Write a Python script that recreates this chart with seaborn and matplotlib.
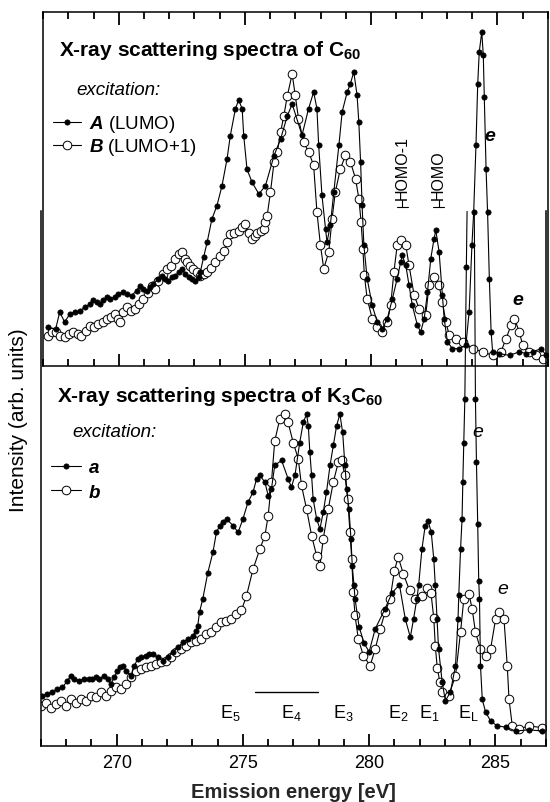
import numpy as np
import pandas as pd
import matplotlib
matplotlib.use("Agg")
import matplotlib.pyplot as plt
import seaborn as sns
from matplotlib.ticker import MultipleLocator, NullFormatter
from matplotlib.lines import Line2D

# ====================================
# DATA
# ====================================

# C60, excitation A (LUMO)
c60_a_e = [267.2, 267.5, 267.66, 267.86, 268.06, 268.26, 268.46, 268.66, 268.86, 268.99,
           269.12, 269.25, 269.39, 269.52, 269.65, 269.85, 269.98, 270.18, 270.31, 270.51,
           270.71, 270.84, 270.98, 271.11, 271.24, 271.37, 271.57, 271.71, 271.84, 271.97,
           272.1, 272.24, 272.37, 272.5, 272.63, 272.77, 272.9, 273.03, 273.16, 273.23,
           273.36, 273.5, 273.69, 273.89, 274.09, 274.29, 274.42, 274.62,
           274.75, 274.89, 274.95, 275.08, 275.28, 275.55, 275.81, 276.15, 276.41, 276.68,
           276.87, 277.26, 277.52, 277.72, 277.85, 277.92, 278.05, 278.19, 278.25, 278.38,
           278.52, 278.72, 278.85, 279.05, 279.18, 279.31, 279.44, 279.51, 279.58, 279.64,
           279.71, 279.84, 280.04, 280.24, 280.44, 280.64, 280.84, 281.03, 281.17, 281.23,
           281.37, 281.5, 281.63, 281.83, 281.96, 282.1, 282.23, 282.36, 282.49, 282.56,
           282.69, 282.82, 282.89, 283.02, 283.22, 283.49, 283.75, 283.88, 283.99, 284.06,
           284.15, 284.22, 284.28, 284.38, 284.44, 284.48, 284.55, 284.61, 284.68, 284.75,
           284.81, 285.08, 285.48, 285.87, 286.14, 286.4, 286.73, 286.93]
c60_a_i = [10.9, 10.4, 15.2, 12.4, 14.7, 15.2, 15.6, 16.6, 17.5, 18.5,
           18.0, 17.5, 18.5, 19.4, 18.9, 19.4, 20.4, 20.8, 20.4, 19.9,
           21.3, 22.7, 21.8, 21.3, 22.2, 23.2, 24.6, 25.5, 24.6, 24.1,
           25.1, 25.5, 26.5, 27.4, 26.0, 25.1, 24.6, 24.1, 25.1, 26.5,
           30.7, 34.9, 41.5, 45.3, 50.9, 58.5, 65.1, 72.6,
           75.2, 72.6, 65.1, 55.6, 51.9, 48.6, 50.9, 59.4, 64.1, 70.7,
           74.0, 65.2, 72.7, 77.4, 72.7, 62.3, 48.2, 38.8, 35.0, 39.7,
           49.2, 62.3, 71.8, 77.4, 79.8, 83.1, 76.5, 68.9, 57.6, 45.4,
           34.1, 24.7, 17.1, 12.4, 10.5, 13.4, 19.0, 24.7, 29.4, 31.3,
           28.4, 22.8, 17.1, 11.5, 9.6, 13.4, 20.9, 30.3, 36.0, 38.3,
           32.2, 20.0, 13.4, 6.8, 4.9, 4.9, 5.8, 15.3, 34.1, 43.5,
           62.3, 79.8, 88.7, 94.4, 87.8, 76.0, 55.7, 43.5, 24.7, 9.6,
           4.0, 3.5, 3.0, 4.0, 3.5, 4.0, 4.9, 3.0]

# C60, excitation B (LUMO+1)
c60_b_e = [267.2, 267.37, 267.53, 267.69, 267.86, 268.03, 268.19, 268.37, 268.52, 268.7,
           268.86, 269.01, 269.19, 269.36, 269.52, 269.69, 269.85, 269.96, 270.05, 270.18,
           270.31, 270.47, 270.64, 270.82, 270.98, 271.15, 271.31, 271.44, 271.57, 271.74,
           271.9, 272.08, 272.24, 272.37, 272.5, 272.61, 272.7, 272.83, 272.96, 273.1,
           273.23, 273.36, 273.49, 273.67, 273.83, 274.0, 274.16, 274.29, 274.42, 274.58,
           274.75, 274.89, 275.02, 275.15, 275.28, 275.38, 275.48, 275.62, 275.75, 275.81,
           275.88, 276.01, 276.15, 276.28, 276.41, 276.54, 276.68, 276.87, 276.99, 277.12,
           277.32, 277.52, 277.72, 277.85, 277.99, 278.12, 278.32, 278.45, 278.58, 278.78,
           278.98, 279.18, 279.38, 279.51, 279.6, 279.67, 279.73, 279.84, 280.04, 280.24,
           280.41, 280.64, 280.77, 280.9, 281.03, 281.17, 281.37, 281.5, 281.7, 281.9,
           282.16, 282.29, 282.49, 282.69, 282.82, 282.96, 283.09, 283.35, 283.62, 284.02,
           284.41, 284.81, 285.14, 285.34, 285.54, 285.67, 285.87, 286.0, 286.27, 286.54,
           286.8]
c60_b_i = [8.6, 9.5, 9.5, 8.6, 8.1, 9.0, 9.5, 9.0, 8.6, 9.9,
           11.4, 10.9, 11.9, 12.3, 13.3, 13.7, 14.7, 13.3, 12.3, 15.2,
           16.6, 15.6, 16.1, 17.5, 18.9, 20.7, 22.6, 21.7, 24.1, 25.9,
           27.4, 28.3, 30.2, 31.6, 32.3, 30.2, 29.3, 28.3, 27.4, 26.5,
           25.5, 26.0, 26.5, 27.8, 29.3, 31.1, 32.6, 34.9, 37.3, 37.7,
           38.2, 39.2, 40.1, 37.7, 35.9, 36.8, 37.7, 38.2, 38.7, 40.6,
           42.5, 49.1, 57.5, 60.4, 66.0, 70.7, 76.4, 82.5, 76.5, 69.9,
           63.3, 60.5, 56.7, 43.5, 34.1, 27.5, 32.2, 41.6, 49.2, 55.7,
           59.5, 57.6, 52.9, 47.3, 40.7, 33.1, 25.6, 19.0, 13.4, 11.0,
           9.6, 12.4, 17.1, 26.6, 34.1, 35.5, 34.1, 28.4, 20.0, 16.2,
           14.3, 22.8, 25.1, 22.8, 18.1, 12.4, 8.7, 7.7, 6.8, 4.9,
           4.0, 3.0, 4.0, 7.7, 11.5, 13.4, 9.6, 5.8, 4.0, 3.0,
           2.1]

# K3C60, excitation a
k3_a_e = [267.05, 267.25, 267.45, 267.65, 267.85, 268.05, 268.18, 268.31, 268.51, 268.71,
          268.91, 269.04, 269.17, 269.31, 269.5, 269.64, 269.77, 269.9, 270.03, 270.13,
          270.23, 270.37, 270.57, 270.7, 270.83, 270.96, 271.16, 271.29, 271.43, 271.62,
          271.82, 272.02, 272.22, 272.42, 272.62, 272.82, 273.02, 273.15, 273.21, 273.28,
          273.41, 273.61, 273.81, 273.95, 274.08, 274.21, 274.35, 274.61, 274.81, 275.0,
          275.2, 275.4, 275.54, 275.67, 275.87, 276.0, 276.13, 276.26, 276.53, 276.79,
          276.92, 277.06, 277.25, 277.39, 277.52, 277.59, 277.65, 277.72, 277.78, 277.92,
          278.05, 278.18, 278.31, 278.45, 278.58, 278.71, 278.84, 278.95, 279.04, 279.11,
          279.2, 279.28, 279.33, 279.4, 279.44, 279.6, 279.8, 280.0, 280.24, 280.63,
          280.9, 281.2, 281.43, 281.63, 281.76, 281.89, 281.96, 282.09, 282.22, 282.33,
          282.46, 282.56, 282.62, 282.69, 282.75, 282.89, 283.02, 283.22, 283.42, 283.52,
          283.55, 283.62, 283.68, 283.71, 283.75, 283.79, 283.85, 283.95, 284.05, 284.15,
          284.21, 284.25, 284.3, 284.34, 284.37, 284.41, 284.48, 284.61, 284.81, 285.07,
          285.41, 285.8, 286.33, 286.86]
k3_a_i = [13.1, 13.4, 13.7, 14.3, 14.6, 15.8, 16.7, 16.1, 15.8, 16.1,
          16.1, 16.2, 16.4, 16.1, 16.7, 16.1, 15.2, 16.4, 17.6, 18.2,
          18.5, 17.6, 16.7, 18.5, 19.7, 20.0, 20.3, 20.6, 20.6, 20.0,
          19.4, 20.0, 20.9, 21.8, 22.7, 23.3, 23.9, 24.8, 25.7, 28.1,
          30.5, 35.2, 38.8, 42.4, 43.6, 44.2, 44.8, 43.6, 42.4, 44.8,
          47.8, 49.6, 52.0, 52.6, 51.4, 49.0, 50.2, 54.4, 55.3, 52.0,
          50.5, 52.6, 58.5, 62.1, 63.6, 61.5, 56.8, 52.6, 48.4, 44.8,
          43.0, 46.0, 49.6, 54.4, 58.0, 61.5, 63.6, 60.3, 54.4, 50.2,
          46.6, 41.2, 36.4, 32.9, 30.5, 25.5, 22.5, 21.0, 25.1, 28.7,
          31.5, 33.0, 26.9, 23.6, 26.9, 30.5, 32.9, 39.4, 43.6, 44.5,
          42.4, 37.6, 32.9, 26.9, 21.5, 15.6, 12.2, 13.8, 18.5, 26.9,
          31.1, 39.4, 44.8, 51.4, 58.5, 66.3, 90.0, 125.0, 135.0, 110.0,
          66.3, 55.0, 43.9, 33.7, 30.5, 18.5, 12.5, 10.2, 8.6, 7.7,
          7.5, 6.8, 7.0, 6.8]

# K3C60, excitation b
k3_b_e = [267.0, 267.19, 267.39, 267.58, 267.78, 267.98, 268.18, 268.38, 268.58, 268.78,
          268.97, 269.17, 269.37, 269.57, 269.77, 269.97, 270.17, 270.37, 270.56, 270.76,
          270.96, 271.16, 271.36, 271.56, 271.76, 271.96, 272.16, 272.35, 272.55, 272.75,
          272.95, 273.15, 273.35, 273.55, 273.75, 273.94, 274.14, 274.34, 274.54, 274.74,
          274.94, 275.14, 275.4, 275.67, 275.87, 276.0, 276.13, 276.26, 276.46, 276.66,
          276.79, 276.99, 277.19, 277.32, 277.52, 277.72, 277.92, 278.05, 278.18, 278.38,
          278.58, 278.78, 278.91, 279.04, 279.15, 279.24, 279.31, 279.37, 279.44, 279.57,
          279.77, 280.04, 280.24, 280.44, 280.63, 280.83, 281.0, 281.15, 281.35, 281.6,
          281.83, 282.1, 282.3, 282.45, 282.56, 282.62, 282.7, 282.8, 282.89, 283.15,
          283.42, 283.62, 283.75, 283.95, 284.08, 284.21, 284.41, 284.61, 284.81, 285.01,
          285.14, 285.34, 285.47, 285.54, 285.67, 285.94, 286.33, 286.86]
k3_b_i = [11.3, 11.9, 11.0, 11.6, 12.2, 11.3, 12.5, 11.9, 12.5, 12.2,
          13.1, 12.8, 13.7, 13.1, 14.0, 14.6, 14.3, 15.2, 16.4, 17.6,
          17.9, 18.2, 18.5, 18.8, 19.1, 19.4, 20.0, 20.9, 21.5, 22.1,
          22.7, 23.0, 23.3, 24.2, 24.5, 25.4, 26.3, 26.6, 26.9, 27.8,
          28.4, 31.0, 35.8, 39.4, 41.8, 45.4, 51.4, 58.8, 62.7, 63.6,
          62.1, 58.5, 55.6, 50.8, 46.6, 41.8, 38.2, 36.4, 41.2, 46.6,
          51.4, 55.0, 55.3, 52.6, 48.4, 42.4, 37.6, 31.7, 27.5, 23.3,
          20.3, 18.5, 21.5, 25.1, 28.1, 30.5, 35.5, 38.0, 35.0, 32.0,
          30.5, 31.0, 32.5, 31.5, 27.0, 22.0, 18.0, 15.6, 13.8, 13.1,
          16.7, 24.5, 30.5, 31.4, 28.7, 24.5, 21.5, 20.3, 21.5, 26.9,
          28.1, 26.9, 18.5, 12.5, 7.7, 7.2, 7.7, 7.4]

# level labels of K3C60 spectrum
level_labels = ["E$_5$", "E$_4$", "E$_3$", "E$_2$", "E$_1$", "E$_\\mathrm{L}$"]
level_pos = [274.5, 276.9, 278.97, 281.15, 282.39, 283.94]
e4_span = [275.47, 277.97]

# orbital labels of C60 spectrum
orbital_labels = ["HOMO-1", "HOMO"]
orbital_pos = [281.23, 282.67]

# ====================================
# STYLE
# ====================================

sns.set_style("ticks")
plt.rcParams["font.family"] = ["Liberation Sans", "DejaVu Sans"]
plt.rcParams["mathtext.fontset"] = "custom"
plt.rcParams["mathtext.rm"] = "Liberation Sans"
plt.rcParams["mathtext.it"] = "Liberation Sans:italic"
plt.rcParams["mathtext.bf"] = "Liberation Sans:bold"
plt.rcParams["mathtext.bfit"] = "Liberation Sans:italic:bold"
plt.rcParams["axes.linewidth"] = 1.1
plt.rcParams["axes.edgecolor"] = "black"
plt.rcParams["xtick.color"] = "black"
plt.rcParams["text.color"] = "black"

fig = plt.figure(figsize=(5.5, 8.03), dpi=100)
ax_top = fig.add_axes([0.0782, 0.543, 0.918, 0.4408])
ax_bot = fig.add_axes([0.0745, 0.0697, 0.918, 0.6663])
ax_bot.patch.set_alpha(0)

filled = dict(color="black", marker="o", markersize=3.8, linewidth=0.8,
              markerfacecolor="black", markeredgecolor="black", markeredgewidth=0.5)
hollow = dict(color="black", marker="o", markersize=6.2, linewidth=0.8,
              markerfacecolor="white", markeredgecolor="black", markeredgewidth=0.7)

# ====================================
# TOP PANEL: C60
# ====================================

sns.lineplot(x=c60_b_e, y=c60_b_i, ax=ax_top, **hollow)
sns.lineplot(x=c60_a_e, y=c60_a_i, ax=ax_top, **filled)

ax_top.set_xlim(267, 287)
ax_top.set_ylim(0, 100)
ax_top.set_yticks([])
ax_top.set_xlabel("")
ax_top.xaxis.set_major_locator(MultipleLocator(5))
ax_top.xaxis.set_minor_locator(MultipleLocator(1))
ax_top.xaxis.set_major_formatter(NullFormatter())
ax_top.tick_params(axis="x", which="both", direction="in", top=True, bottom=True,
                   labelbottom=False, labeltop=False, width=1.3)
ax_top.tick_params(axis="x", which="major", length=9)
ax_top.tick_params(axis="x", which="minor", length=5)
for s in ax_top.spines.values():
    s.set_visible(True)

ax_top.text(267.64, 89.5, "X-ray scattering spectra of C$_\\mathbf{60}$",
            fontsize=15, fontweight="bold", va="center")
ax_top.text(268.31, 78.2, "excitation:", fontsize=13.5, fontstyle="italic", va="center")

leg = ax_top.legend([Line2D([], [], **filled), Line2D([], [], **hollow)],
                    ["$\\mathbfit{A}$ (LUMO)", "$\\mathbfit{B}$ (LUMO+1)"],
                    loc="upper left", bbox_to_anchor=(0.005, 0.735), frameon=False,
                    fontsize=13.5, handlelength=1.5, handletextpad=0.4,
                    labelspacing=0.1, borderaxespad=0)

for lab, x in zip(orbital_labels, orbital_pos):
    ax_top.text(x, 47.3, lab, rotation=90, fontsize=11.5, ha="center", va="bottom")
    ax_top.plot([x, x], [45.0, 47.0], color="black", linewidth=0.8)
    ax_top.plot([x - 0.22, x + 0.22], [45.0, 45.0], color="black", linewidth=0.8)

ax_top.text(284.69, 65.0, "e", fontsize=14, fontweight="bold", fontstyle="italic",
            ha="center", va="center")
ax_top.text(285.81, 18.9, "e", fontsize=14, fontweight="bold", fontstyle="italic",
            ha="center", va="center")

# ====================================
# BOTTOM PANEL: K3C60
# ====================================

sns.lineplot(x=k3_b_e, y=k3_b_i, ax=ax_bot, **hollow)
sns.lineplot(x=k3_a_e, y=k3_a_i, ax=ax_bot, **filled)

ax_bot.set_xlim(267, 287)
ax_bot.set_ylim(4.1, 100)
ax_bot.set_yticks([])
ax_bot.spines["top"].set_visible(False)
ax_bot.xaxis.set_major_locator(MultipleLocator(5))
ax_bot.xaxis.set_minor_locator(MultipleLocator(1))
ax_bot.tick_params(axis="x", which="both", direction="in", top=False, bottom=True,
                   labelsize=13, pad=6, width=1.3)
ax_bot.tick_params(axis="x", which="major", length=9)
ax_bot.tick_params(axis="x", which="minor", length=5)

ax_bot.text(267.64, 67.0, "X-ray scattering spectra of K$_\\mathbf{3}$C$_\\mathbf{60}$",
            fontsize=15, fontweight="bold", va="center")
ax_bot.text(268.23, 60.4, "excitation:", fontsize=13.5, fontstyle="italic", va="center")
leg2 = ax_bot.legend([Line2D([], [], **filled), Line2D([], [], **hollow)], ["a", "b"],
                     loc="upper left", bbox_to_anchor=(0.005, 0.55), frameon=False,
                     handlelength=1.6, handletextpad=0.4,
                     labelspacing=0.4, borderaxespad=0,
                     prop={"size": 13.5, "weight": "bold", "style": "italic"})

for lab, x in zip(level_labels, level_pos):
    ax_bot.text(x, 10.2, lab, fontsize=13, ha="center", va="center")
ax_bot.plot(e4_span, [13.8, 13.8], color="black", linewidth=1)

ax_bot.text(284.3, 60.4, "e", fontsize=14, fontstyle="italic", ha="center", va="center")
ax_bot.text(285.29, 32.3, "e", fontsize=14, fontstyle="italic", ha="center", va="center")

ax_bot.set_xlabel("Emission energy [eV]", fontsize=14.5, fontweight="bold", labelpad=8)
fig.text(0.033, 1 - 420 / 803, "Intensity (arb. units)", rotation=90, fontsize=15,
         ha="center", va="center")

fig.savefig("out.png", dpi=100)
